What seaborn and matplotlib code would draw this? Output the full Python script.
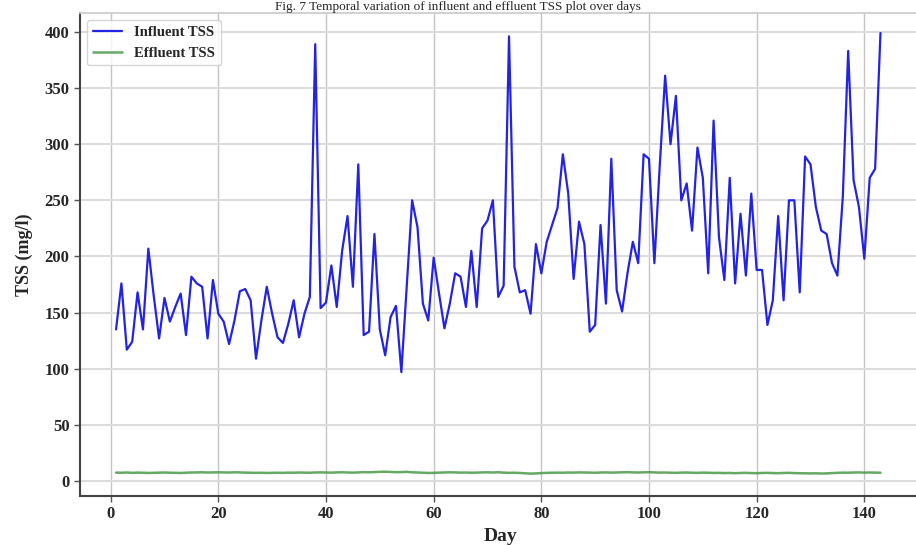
import numpy as np
import pandas as pd
import matplotlib
matplotlib.use("Agg")
import matplotlib.pyplot as plt
import seaborn as sns

days = list(range(1, 144))

influent_tss = [
    135, 176, 117, 124, 168, 135, 207, 165, 127, 163,
    142, 155, 167, 130, 182, 176, 173, 127, 179, 149,
    142, 122, 143, 169, 171, 161, 109, 143, 173, 149,
    128, 123, 140, 161, 128, 149, 164, 389, 154, 159,
    192, 155, 205, 236, 173, 282, 130, 133, 220, 135,
    112, 146, 156, 97, 173, 250, 226, 158, 143, 199,
    167, 136, 158, 185, 182, 155, 205, 155, 225, 232,
    250, 164, 174, 396, 191, 168, 170, 149, 211, 185,
    213, 228, 243, 291, 256, 180, 231, 211, 133, 139,
    228, 158, 287, 170, 151, 185, 213, 194, 291, 287,
    194, 281, 361, 300, 343, 250, 265, 223, 297, 270,
    185, 321, 217, 179, 270, 176, 238, 183, 256, 188,
    188, 139, 161, 236, 161, 250, 250, 168, 289, 282,
    244, 223, 220, 194, 183, 253, 383, 268, 244, 198,
    270, 278, 399,
]

effluent_tss = [
    7.5, 7.4, 7.6, 7.3, 7.5, 7.4, 7.2, 7.3, 7.5, 7.6,
    7.4, 7.3, 7.2, 7.4, 7.6, 7.7, 7.8, 7.6, 7.7, 7.8,
    7.7, 7.6, 7.8, 7.7, 7.5, 7.4, 7.3, 7.4, 7.2, 7.3,
    7.4, 7.3, 7.5, 7.4, 7.6, 7.5, 7.4, 7.6, 7.7, 7.6,
    7.5, 7.7, 7.8, 7.6, 7.5, 7.7, 7.9, 7.8, 8.0, 8.2,
    8.3, 8.1, 7.9, 8.0, 8.2, 7.8, 7.6, 7.4, 7.2, 7.3,
    7.5, 7.6, 7.8, 7.7, 7.5, 7.6, 7.4, 7.5, 7.7, 7.8,
    7.6, 7.8, 7.5, 7.3, 7.4, 7.2, 6.9, 6.6, 6.8, 7.1,
    7.3, 7.4, 7.5, 7.4, 7.6, 7.5, 7.7, 7.6, 7.5, 7.4,
    7.6, 7.7, 7.5, 7.6, 7.8, 7.9, 7.7, 7.6, 7.8, 7.9,
    7.7, 7.5, 7.6, 7.4, 7.3, 7.5, 7.6, 7.4, 7.3, 7.5,
    7.4, 7.2, 7.3, 7.1, 7.2, 7.0, 7.2, 7.3, 7.1, 7.0,
    7.2, 7.3, 7.1, 7.0, 7.2, 7.3, 7.1, 7.0, 6.9, 6.8,
    6.9, 6.7, 6.8, 7.1, 7.3, 7.5, 7.4, 7.6, 7.7, 7.5,
    7.6, 7.5, 7.4,
]

x_ticks = [0, 20, 40, 60, 80, 100, 120, 140]
y_ticks = [0, 50, 100, 150, 200, 250, 300, 350, 400]

sns.set_theme(style="whitegrid")
plt.rcParams["font.family"] = ["Liberation Serif", "DejaVu Serif"]
plt.rcParams["font.weight"] = "bold"

df = pd.DataFrame({"Day": days, "Influent": influent_tss, "Effluent": effluent_tss})

fig = plt.figure(figsize=(9.16, 5.46), dpi=100)
ax = fig.add_axes([0.0873, 0.0916, 0.918, 0.885])

sns.lineplot(data=df, x="Day", y="Influent", ax=ax, color="#2323e6",
             linewidth=1.6, label="Influent TSS")
sns.lineplot(data=df, x="Day", y="Effluent", ax=ax, color="#4a9a4a",
             linewidth=1.8, alpha=0.85, label="Effluent TSS")

ax.set_xticks(x_ticks)
ax.set_yticks(y_ticks)
ax.set_xlim(-5.7, 150.5)
ax.set_ylim(-13.3, 417)
ax.set_xlabel("Day", fontsize=14, fontweight="bold")
ax.set_ylabel("TSS (mg/l)", fontsize=13, fontweight="bold", labelpad=8)
ax.tick_params(axis="both", labelsize=12, length=4, width=1, color="#555555",
               bottom=True, left=True)
for lbl in ax.get_xticklabels() + ax.get_yticklabels():
    lbl.set_fontweight("bold")

ax.xaxis.grid(True, color="#c4c4c4", linewidth=1.0)
ax.yaxis.grid(True, color="#dcdcdc", linewidth=1.5)
for side in ["left", "bottom"]:
    ax.spines[side].set_color("#444444")
    ax.spines[side].set_linewidth(1.5)
for side in ["top", "right"]:
    ax.spines[side].set_color("#cccccc")

leg = ax.legend(loc="upper left", frameon=True,
                prop={"weight": "bold", "size": 10.5})
leg.get_frame().set_edgecolor("#cccccc")

fig.text(0.5, 0.999, "Fig. 7 Temporal variation of influent and effluent TSS plot over days",
         ha="center", va="top", fontsize=9.5, fontweight="normal")

fig.savefig("out.png", dpi=100)
